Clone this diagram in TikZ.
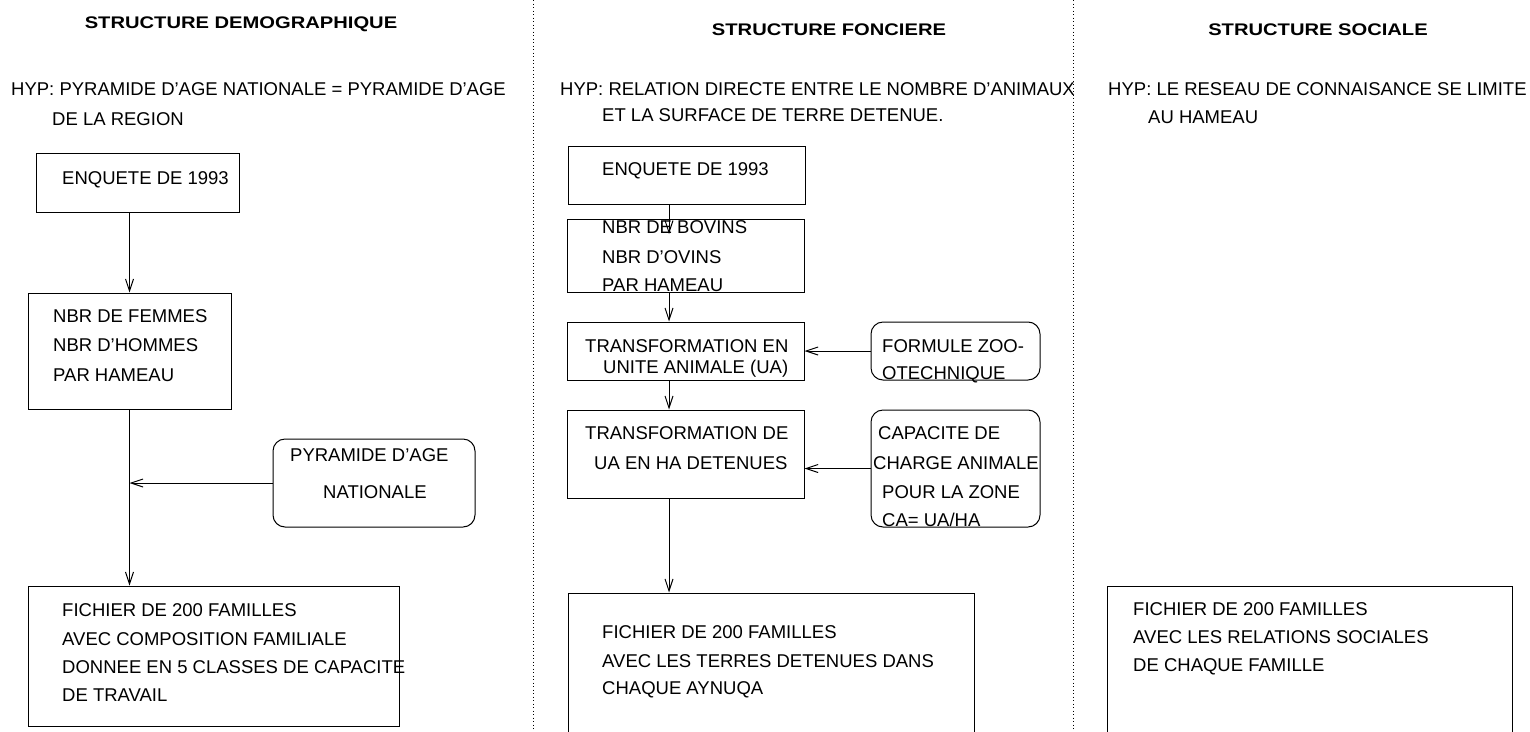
\documentclass[tikz,border=0pt]{standalone}
\usepackage{fontspec}
\setmainfont{Liberation Sans}
\usetikzlibrary{arrows.meta}
\begin{document}
\begin{tikzpicture}[x=1pt,y=-1pt,
  txt/.style={anchor=base west,inner sep=0pt,font=\fontsize{18.5}{22}\selectfont},
  ttl/.style={anchor=base,inner sep=0pt,font=\fontsize{16.8}{20}\selectfont\bfseries},
  box/.style={draw,line width=1pt,inner sep=0pt,rectangle},
  rbox/.style={box,rounded corners=12pt},
  arr/.style={line width=1pt,-{Straight Barb[length=12pt,width=8pt]}},
  sepline/.style={line width=1pt,dash pattern=on 1pt off 2.5pt}]
\useasboundingbox (0,0) rectangle (1530,731);
\clip (0,0) rectangle (1530,731);

% separators
\coordinate (s1t) at (533,0); \coordinate (s1b) at (533,731);
\coordinate (s2t) at (1073,0); \coordinate (s2b) at (1073,731);
\draw[sepline] (s1t) -- (s1b);
\draw[sepline] (s2t) -- (s2b);

% titles
\node[ttl] (t1) at (241,28.5) {\scalebox{1.2}[1]{STRUCTURE DEMOGRAPHIQUE}};
\node[ttl] (t2) at (829,35) {\scalebox{1.2}[1]{STRUCTURE FONCIERE}};
\node[ttl] (t3) at (1318,35) {\scalebox{1.2}[1]{STRUCTURE SOCIALE}};

% hypotheses
\node[txt] (h1a) at (11,95) {HYP: PYRAMIDE D’AGE NATIONALE = PYRAMIDE D’AGE};
\node[txt] (h1b) at (52,125) {DE LA REGION};
\node[txt] (h2a) at (560,95) {HYP: RELATION DIRECTE ENTRE LE NOMBRE D’ANIMAUX};
\node[txt] (h2b) at (602,121) {ET LA SURFACE DE TERRE DETENUE.};
\node[txt] (h3a) at (1108,95) {HYP: LE RESEAU DE CONNAISANCE SE LIMITE};
\node[txt] (h3b) at (1148,123) {AU HAMEAU};

% left column boxes
\node[box,minimum width=203pt,minimum height=59pt] (l1) at (137.5,182.5) {};
\node[box,minimum width=203pt,minimum height=116pt] (l2) at (129.5,351) {};
\node[rbox,minimum width=202pt,minimum height=88pt] (pyr) at (374,483) {};
\node[box,minimum width=371pt,minimum height=140pt] (l3) at (213.5,656) {};

\node[txt] (l1t) at (62,184) {ENQUETE DE 1993};
\node[txt] (l2a) at (53,322) {NBR DE FEMMES};
\node[txt] (l2b) at (53,351) {NBR D’HOMMES};
\node[txt] (l2c) at (53,381) {PAR HAMEAU};
\node[txt] (pya) at (290,461) {PYRAMIDE D’AGE};
\node[txt] (pyb) at (323,498) {NATIONALE};
\node[txt] (l3a) at (62,616) {FICHIER DE 200 FAMILLES};
\node[txt] (l3b) at (62,645) {AVEC COMPOSITION FAMILIALE};
\node[txt] (l3c) at (62,673) {DONNEE EN 5 CLASSES DE CAPACITE};
\node[txt] (l3d) at (62,701) {DE TRAVAIL};

\draw[arr] (l2.north |- l1.south) -- (l2.north);
\draw[arr] (l2.south) -- (l2.south |- l3.north);
\draw[arr] (pyr.west) -- (pyr.west -| l2.south);

% middle column boxes
\node[box,minimum width=237pt,minimum height=58pt] (m1) at (686.5,175) {};
\node[box,minimum width=237pt,minimum height=73pt] (m2) at (685.5,255.5) {};
\node[box,minimum width=237pt,minimum height=58pt] (m3) at (685.5,351) {};
\node[rbox,minimum width=169pt,minimum height=58pt] (zoo) at (955.5,351) {};
\node[box,minimum width=237pt,minimum height=88pt] (m4) at (685.5,454) {};
\node[rbox,minimum width=169pt,minimum height=117pt] (cap) at (955.5,468.5) {};
\node[box,minimum width=406pt,minimum height=167pt] (m5) at (771,676.5) {};

\node[txt] (m1t) at (602,175) {ENQUETE DE 1993};
\node[txt] (m2a) at (602,233) {NBR DE BOVINS};
\node[txt] (m2b) at (602,263) {NBR D’OVINS};
\node[txt] (m2c) at (602,291) {PAR HAMEAU};
\node[txt] (m3a) at (585,352) {TRANSFORMATION EN};
\node[txt] (m3b) at (603,373) {UNITE ANIMALE (UA)};
\node[txt] (zooa) at (882,352) {FORMULE ZOO-};
\node[txt] (zoob) at (882,379) {OTECHNIQUE};
\node[txt] (m4a) at (585,439) {TRANSFORMATION DE};
\node[txt] (m4b) at (594,469) {UA EN HA DETENUES};
\node[txt] (capa) at (878,439) {CAPACITE DE};
\node[txt] (capb) at (873,469) {CHARGE ANIMALE};
\node[txt] (capc) at (882,498) {POUR LA ZONE};
\node[txt] (capd) at (882,526) {CA= UA/HA};
\node[txt] (m5a) at (602,638) {FICHIER DE 200 FAMILLES};
\node[txt] (m5b) at (602,667) {AVEC LES TERRES DETENUES DANS};
\node[txt] (m5c) at (602,694) {CHAQUE AYNUQA};

\coordinate (xm) at (669,0);
\coordinate (m2in) at (669,234);
\draw[arr] (xm |- m1.south) -- (m2in);
\draw[arr] (xm |- m2.south) -- (xm |- m3.north);
\draw[arr] (zoo.west) -- (m3.east);
\draw[arr] (xm |- m3.south) -- (xm |- m4.north);
\draw[arr] (cap.west) -- (cap.west -| m4.east);
\draw[arr] (xm |- m4.south) -- (xm |- m5.north);

% right column
\node[box,minimum width=405pt,minimum height=174pt] (r1) at (1309.5,673) {};
\node[txt] (r1a) at (1133,615) {FICHIER DE 200 FAMILLES};
\node[txt] (r1b) at (1133,643) {AVEC LES RELATIONS SOCIALES};
\node[txt] (r1c) at (1133,671) {DE CHAQUE FAMILLE};
\end{tikzpicture}
\end{document}
